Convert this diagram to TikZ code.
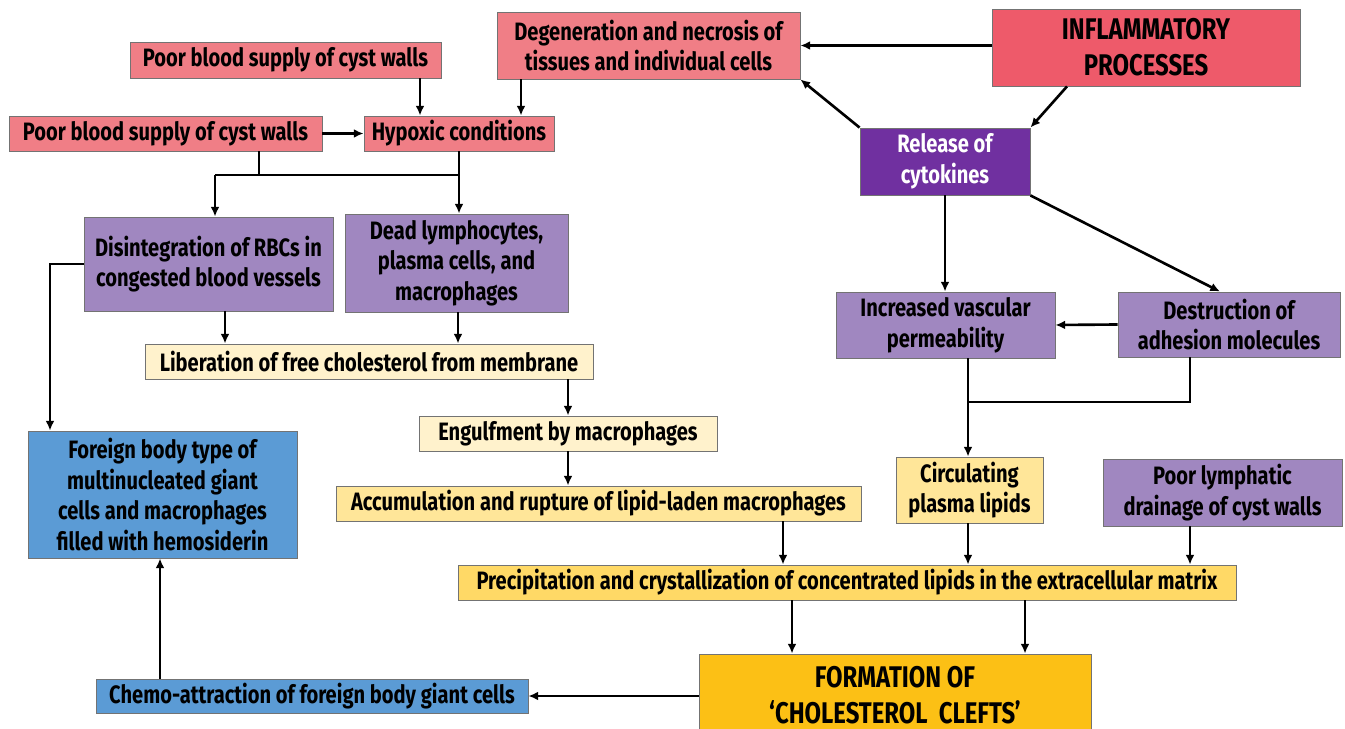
\documentclass[tikz,border=0pt]{standalone}
\usepackage{fontspec}
\setmainfont{Fira Sans}[FakeStretch=0.80]
\usetikzlibrary{arrows.meta}
\definecolor{pinkbox}{HTML}{F07E86}
\definecolor{redbox}{HTML}{EE5A6A}
\definecolor{violetbox}{HTML}{7030A0}
\definecolor{lilacbox}{HTML}{A087C0}
\definecolor{creambox}{HTML}{FFF2CC}
\definecolor{paleyellow}{HTML}{FFE699}
\definecolor{yellowbox}{HTML}{FFD966}
\definecolor{goldbox}{HTML}{FCC015}
\definecolor{bluebox}{HTML}{5B9BD5}
\tikzset{
  box/.style={draw=black!55, line width=0.5pt, inner sep=0pt, align=center,
    font=\bfseries\fontsize{14.3}{17.4}\selectfont},
  bigbox/.style={box, font=\bfseries\fontsize{17}{20.5}\selectfont},
  arr/.style={-{Latex[length=5.5pt,width=5pt]}, line width=1.5pt},
  ln/.style={line width=1.5pt}
}

\begin{document}
\begin{tikzpicture}[x=0.02cm,y=-0.02cm]
  \useasboundingbox (0,0) rectangle (1345,729);

  % top row
  \node[box, fill=pinkbox, minimum width=6.22cm, minimum height=0.72cm] (pbone) at (285.5,60) {Poor blood supply of cyst walls};
  \node[box, fill=pinkbox, minimum width=6.06cm, minimum height=1.34cm] (degen) at (648.5,45.5) {Degeneration and necrosis of\\tissues and individual cells};
  \node[bigbox, fill=redbox, minimum width=6.16cm, minimum height=1.54cm] (inflam) at (1146,47.5) {INFLAMMATORY\\PROCESSES};
  \node[box, fill=pinkbox, minimum width=6.26cm, minimum height=0.70cm] (pbtwo) at (165.5,133.5) {Poor blood supply of cyst walls};
  \node[box, fill=pinkbox, minimum width=3.8cm, minimum height=0.70cm] (hypox) at (459,133.5) {Hypoxic conditions};
  \node[box, fill=violetbox, text=white, minimum width=3.4cm, minimum height=1.34cm] (cyto) at (945,161.5) {Release of\\cytokines};

  % middle
  \node[box, fill=lilacbox, minimum width=4.98cm, minimum height=1.88cm] (rbc) at (208.5,264) {Disintegration of RBCs in\\congested blood vessels};
  \node[box, fill=lilacbox, minimum width=4.46cm, minimum height=1.96cm] (dead) at (456.5,263) {Dead lymphocytes,\\plasma cells, and\\macrophages};
  \node[box, fill=lilacbox, minimum width=4.38cm, minimum height=1.32cm] (perm) at (945.5,325) {Increased vascular\\permeability};
  \node[box, fill=lilacbox, minimum width=4.44cm, minimum height=1.30cm] (adhes) at (1229,324.5) {Destruction of\\adhesion molecules};
  \node[box, fill=creambox, minimum width=8.96cm, minimum height=0.70cm] (liber) at (369,361.5) {Liberation of free cholesterol from membrane};
  \node[box, fill=creambox, minimum width=5.96cm, minimum height=0.70cm] (engulf) at (568,433.5) {Engulfment by macrophages};
  \node[box, fill=bluebox, minimum width=5.38cm, minimum height=2.54cm] (giant) at (162.5,494.5) {Foreign body type of\\multinucleated giant\\cells and macrophages\\filled with hemosiderin};
  \node[box, fill=paleyellow, minimum width=10.5cm, minimum height=0.70cm] (accum) at (598.5,503.5) {Accumulation and rupture of lipid-laden macrophages};
  \node[box, fill=paleyellow, minimum width=2.94cm, minimum height=1.32cm] (circ) at (969.5,490) {Circulating\\plasma lipids};
  \node[box, fill=lilacbox, minimum width=4.78cm, minimum height=1.34cm] (lymph) at (1222.5,492.5) {Poor lymphatic\\drainage of cyst walls};

  % bottom
  \node[box, fill=yellowbox, minimum width=15.56cm, minimum height=0.70cm] (precip) at (847,582.5) {Precipitation and crystallization of concentrated lipids in the extracellular matrix};
  \node[bigbox, fill=goldbox, minimum width=7.84cm, minimum height=1.64cm] (clefts) at (895,695) {FORMATION OF\\`CHOLESTEROL\ \ CLEFTS'};
  \node[box, fill=bluebox, minimum width=8.64cm, minimum height=0.68cm] (chemo) at (312,696) {Chemo-attraction of foreign body giant cells};

  % left branch
  \draw[arr] (420,0 |- pbone.south) -- (420,0 |- hypox.north);
  \draw[arr] (521,0 |- degen.south) -- (521,0 |- hypox.north);
  \draw[arr] (pbtwo.east) -- (hypox.west);
  \draw[ln] (259,0 |- pbtwo.south) -- (259,175);
  \draw[ln] (215,175) -- (hypox.south |- 0,175);
  \draw[arr] (hypox.south) -- (dead.north -| hypox.south);
  \draw[arr] (215,175) -- (215,0 |- rbc.north);
  \draw[arr] (rbc.west) -- (50,0 |- rbc.west) -- (50,0 |- giant.north);
  \draw[arr] (225,0 |- rbc.south) -- (225,0 |- liber.north);
  \draw[arr] (458,0 |- dead.south) -- (458,0 |- liber.north);
  \draw[arr] (568,0 |- liber.south) -- (engulf.north);
  \draw[arr] (engulf.south) -- (568,0 |- accum.north);

  % right branch
  \draw[arr] (inflam.west |- degen.east) -- (degen.east);
  \draw[arr] (1067,0 |- inflam.south) -- (cyto.north east);
  \draw[arr] (cyto.north west) -- (degen.south east);
  \draw[arr] (cyto.south) -- (perm.north -| cyto.south);
  \draw[arr] (cyto.south east) -- (1220,0 |- adhes.north);
  \draw[arr] (adhes.west) -- (perm.east);
  \draw[ln] (968,0 |- perm.south) -- (968,402) -- (1190,402) -- (1190,0 |- adhes.south);
  \draw[arr] (968,402) -- (968,0 |- circ.north);

  % into the clefts
  \draw[arr] (783,0 |- accum.south) -- (783,0 |- precip.north);
  \draw[arr] (968,0 |- circ.south) -- (968,0 |- precip.north);
  \draw[arr] (1190,0 |- lymph.south) -- (1190,0 |- precip.north);
  \draw[arr] (792,0 |- precip.south) -- (792,0 |- clefts.north);
  \draw[arr] (1025,0 |- precip.south) -- (1025,0 |- clefts.north);
  \draw[arr] (clefts.west |- chemo.east) -- (chemo.east);
  \draw[arr] (160,0 |- chemo.north) -- (160,0 |- giant.south);
\end{tikzpicture}
\end{document}
